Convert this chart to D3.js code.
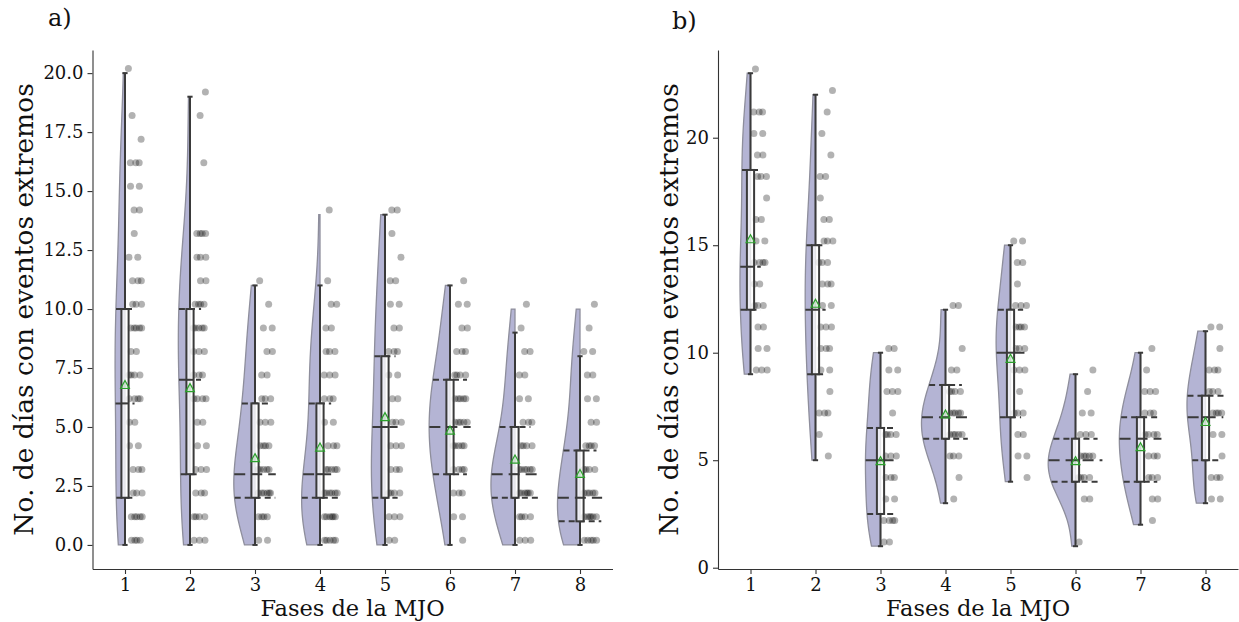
<!DOCTYPE html>
<html>
<head>
<meta charset="utf-8">
<script src="https://cdn.jsdelivr.net/npm/d3@7"></script>
<style>
  body { margin: 0; background: #fff; }
  svg text { font-family: "DejaVu Serif", serif; fill: #111; }
</style>
</head>
<body>
<svg id="chart" width="1239" height="622"></svg>
<script>
var phases = ["1", "2", "3", "4", "5", "6", "7", "8"];

// panel a) -- how many cases per value (index = no. of days), one row per phase
var countsA = [
  [4, 5, 3, 3, 2, 2, 4, 4, 2, 5, 3, 3, 2, 1, 2, 2, 3, 1, 1, 0, 1],
  [3, 4, 3, 3, 2, 2, 4, 3, 3, 5, 4, 2, 3, 4, 0, 0, 1, 0, 1, 1],
  [2, 4, 6, 5, 4, 3, 3, 2, 2, 2, 1, 1],
  [5, 6, 6, 5, 3, 2, 3, 3, 3, 2, 2, 1, 0, 0, 1],
  [2, 3, 4, 3, 3, 3, 2, 2, 3, 2, 2, 2, 1, 1, 2],
  [1, 2, 3, 4, 5, 5, 5, 4, 3, 2, 2, 1],
  [3, 4, 6, 6, 4, 3, 2, 2, 2, 1, 1],
  [5, 6, 5, 4, 4, 2, 2, 2, 2, 1, 1]
];
var whiskLoA = [0, 0, 0, 0, 0, 0, 0, 0];
var whiskHiA = [20, 19, 11, 11, 14, 11, 9, 8];
var q1A = [2, 3, 2, 2, 2, 3, 2, 1];
var medA = [6, 7, 3, 3, 5, 5, 3, 2];
var q3A = [10, 10, 6, 6, 8, 7, 5, 4];
var meanA = [6.8, 6.67, 3.7, 4.15, 5.44, 4.87, 3.64, 3.03];
var yTicksA = [0, 2.5, 5, 7.5, 10, 12.5, 15, 17.5, 20];

// panel b)
var countsB = [
  [0, 0, 0, 0, 0, 0, 0, 0, 0, 3, 2, 2, 3, 2, 4, 2, 2, 1, 3, 2, 2, 3, 0, 1],
  [0, 0, 0, 0, 0, 1, 1, 3, 1, 2, 3, 3, 2, 3, 3, 3, 2, 1, 2, 1, 1, 1, 1],
  [0, 2, 4, 2, 3, 3, 4, 1, 3, 2, 2],
  [0, 0, 0, 1, 1, 3, 5, 5, 4, 2, 1, 0, 2],
  [0, 0, 0, 0, 1, 2, 2, 3, 1, 3, 3, 4, 3, 1, 2, 2],
  [0, 1, 0, 2, 4, 5, 3, 2, 1, 1],
  [0, 0, 1, 2, 3, 3, 4, 3, 3, 1, 1],
  [0, 0, 0, 2, 3, 1, 2, 4, 3, 3, 1, 2]
];
var whiskLoB = [9, 5, 1, 3, 4, 1, 2, 3];
var whiskHiB = [23, 22, 10, 12, 15, 9, 10, 11];
var q1B = [12, 9, 2.5, 6, 7, 4, 4, 5];
var medB = [14, 12, 5, 7, 10, 5, 6, 7];
var q3B = [18.5, 15, 6.5, 8.5, 12, 6, 7, 8];
var meanB = [15.3, 12.3, 4.98, 7.15, 9.74, 4.98, 5.63, 6.8];
var yTicksB = [0, 5, 10, 15, 20];

var svg = d3.select("#chart");

var violinFill = "#b4b4d4",
    violinEdge = "#8e8e9c",
    lineCol = "#3a3a3a",
    meanCol = "#2ca02c";


// gaussian kde, scott's rule (like scipy)
function kdeFn(sample) {
  var n = sample.length;
  var bw = d3.deviation(sample) * Math.pow(n, -0.2);
  var k = 1 / (n * bw * Math.sqrt(2 * Math.PI));
  return function(v) {
    var s = 0;
    for (var i = 0; i < n; i++) {
      var z = (v - sample[i]) / bw;
      s += Math.exp(-0.5 * z * z);
    }
    return s * k;
  };
}


function expand(counts) {
  var rtn = [];
  counts.forEach(function(k, v) {
    for (var j = 0; j < k; j++) rtn.push(v);
  });
  return rtn;
}


function drawPanel(p) {
  var g = svg.append("g");
  var x = d3.scaleLinear().domain([-0.5, 7.5]).range(p.xRange);
  var y = d3.scaleLinear().domain(p.yDomain).range([569, 50]);
  var unit = x(1) - x(0);

  //violin densities, cut at data limits
  var dens = p.counts.map(function(c) {
    var s = expand(c);
    var lo = d3.min(s), hi = d3.max(s);
    var f = kdeFn(s);
    var grid = d3.range(100).map(function(i) { return lo + (hi - lo) * i / 99; });
    return {sample: s, f: f, pts: grid.map(function(v) { return [v, f(v)]; })};
  });
  var maxD = d3.max(dens, function(e) { return d3.max(e.pts, function(d) { return d[1]; }); });
  var w = d3.scaleLinear().domain([0, maxD]).range([0, p.vWidth * unit]);

  dens.forEach(function(e, i) {
    var cx = x(i);
    var area = d3.area()
      .y(function(d) { return y(d[0]); })
      .x0(function(d) { return cx - w(d[1]); })
      .x1(cx);
    g.append("path")
      .attr("d", area(e.pts))
      .attr("fill", violinFill)
      .attr("stroke", violinEdge)
      .attr("stroke-width", 1.3);

    //quartile lines across the full (hidden) violin width
    [[p.q1[i], "6,4"], [p.med[i], "11,6"], [p.q3[i], "6,4"]].forEach(function(q) {
      var hw = w(e.f(q[0])) * 0.99;
      g.append("line")
        .attr("x1", cx - hw).attr("x2", cx + hw)
        .attr("y1", y(q[0])).attr("y2", y(q[0]))
        .attr("stroke", lineCol)
        .attr("stroke-width", 2)
        .attr("stroke-dasharray", q[1]);
    });

    //rain: jittered strip to the right of the box
    var seen = {};
    e.sample.forEach(function(v) {
      seen[v] = (seen[v] || 0) + 1;
      var t = ((seen[v] * 0.618034 + v * 0.37 + i * 0.21) % 1) * 2 - 1;
      g.append("circle")
        .attr("cx", cx + 0.158 * unit + t * 0.11 * unit)
        .attr("cy", y(v + 0.2))
        .attr("r", 3.5)
        .attr("fill", "#000")
        .attr("fill-opacity", 0.3);
    });
  });

  //boxplots
  var bw = 3.6, cap = 2.6;
  phases.forEach(function(ph, i) {
    var cx = x(i);
    var bg = g.append("g").attr("stroke", lineCol).attr("stroke-width", 2);
    bg.append("line").attr("x1", cx).attr("x2", cx)
      .attr("y1", y(p.lo[i])).attr("y2", y(p.q1[i]));
    bg.append("line").attr("x1", cx).attr("x2", cx)
      .attr("y1", y(p.q3[i])).attr("y2", y(p.hi[i]));
    bg.append("line").attr("x1", cx - cap).attr("x2", cx + cap)
      .attr("y1", y(p.lo[i])).attr("y2", y(p.lo[i]));
    bg.append("line").attr("x1", cx - cap).attr("x2", cx + cap)
      .attr("y1", y(p.hi[i])).attr("y2", y(p.hi[i]));
    bg.append("rect")
      .attr("x", cx - bw).attr("width", 2 * bw)
      .attr("y", y(p.q3[i])).attr("height", y(p.q1[i]) - y(p.q3[i]))
      .attr("fill", "#fff").attr("fill-opacity", 0.75);
    bg.append("line").attr("x1", cx - bw).attr("x2", cx + bw)
      .attr("y1", y(p.med[i])).attr("y2", y(p.med[i]));

    //mean marker
    var my = y(p.mean[i]);
    g.append("path")
      .attr("d", "M" + cx + "," + (my - 4) + "L" + (cx + 4.4) + "," + (my + 4) +
                 "L" + (cx - 4.4) + "," + (my + 4) + "Z")
      .attr("fill", meanCol).attr("fill-opacity", 0.15)
      .attr("stroke", meanCol).attr("stroke-width", 1.2);
  });

  //axes
  var ax = g.append("g")
    .attr("transform", "translate(0,569)")
    .call(d3.axisBottom(x).tickValues(d3.range(8))
      .tickFormat(function(d) { return phases[d]; })
      .tickSize(5).tickSizeOuter(0).tickPadding(4));
  var ay = g.append("g")
    .attr("transform", "translate(" + p.xRange[0] + ",0)")
    .call(d3.axisLeft(y).tickValues(p.yTicks).tickFormat(p.fmt)
      .tickSize(5).tickSizeOuter(0).tickPadding(4));
  [ax, ay].forEach(function(a) {
    a.selectAll("path, line").attr("stroke", "#333").attr("stroke-width", 1.1);
    a.selectAll("text").attr("font-size", "18px").attr("fill", "#111")
      .attr("font-family", "DejaVu Serif, serif");
  });

  g.append("text")
    .attr("x", (p.xRange[0] + p.xRange[1]) / 2)
    .attr("y", 616)
    .attr("text-anchor", "middle")
    .attr("font-size", "22.5px")
    .text("Fases de la MJO");

  g.append("text")
    .attr("transform", "rotate(-90)")
    .attr("x", -309.5)
    .attr("y", p.labelX)
    .attr("text-anchor", "middle")
    .attr("font-size", "26.5px")
    .text("No. de días con eventos extremos");

  g.append("text")
    .attr("x", p.letterPos[0])
    .attr("y", p.letterPos[1])
    .attr("font-size", "24px")
    .text(p.letter);
}


drawPanel({
  xRange: [92.5, 612.5], yDomain: [-1.02, 20.98],
  counts: countsA, lo: whiskLoA, hi: whiskHiA,
  q1: q1A, med: medA, q3: q3A, mean: meanA,
  yTicks: yTicksA, fmt: d3.format(".1f"), vWidth: 0.37,
  labelX: 33, letter: "a)", letterPos: [48, 26]
});

drawPanel({
  xRange: [718, 1238], yDomain: [-0.06, 24.08],
  counts: countsB, lo: whiskLoB, hi: whiskHiB,
  q1: q1B, med: medB, q3: q3B, mean: meanB,
  yTicks: yTicksB, fmt: d3.format("d"), vWidth: 0.42,
  labelX: 678, letter: "b)", letterPos: [672, 29]
});
</script>
</body>
</html>
